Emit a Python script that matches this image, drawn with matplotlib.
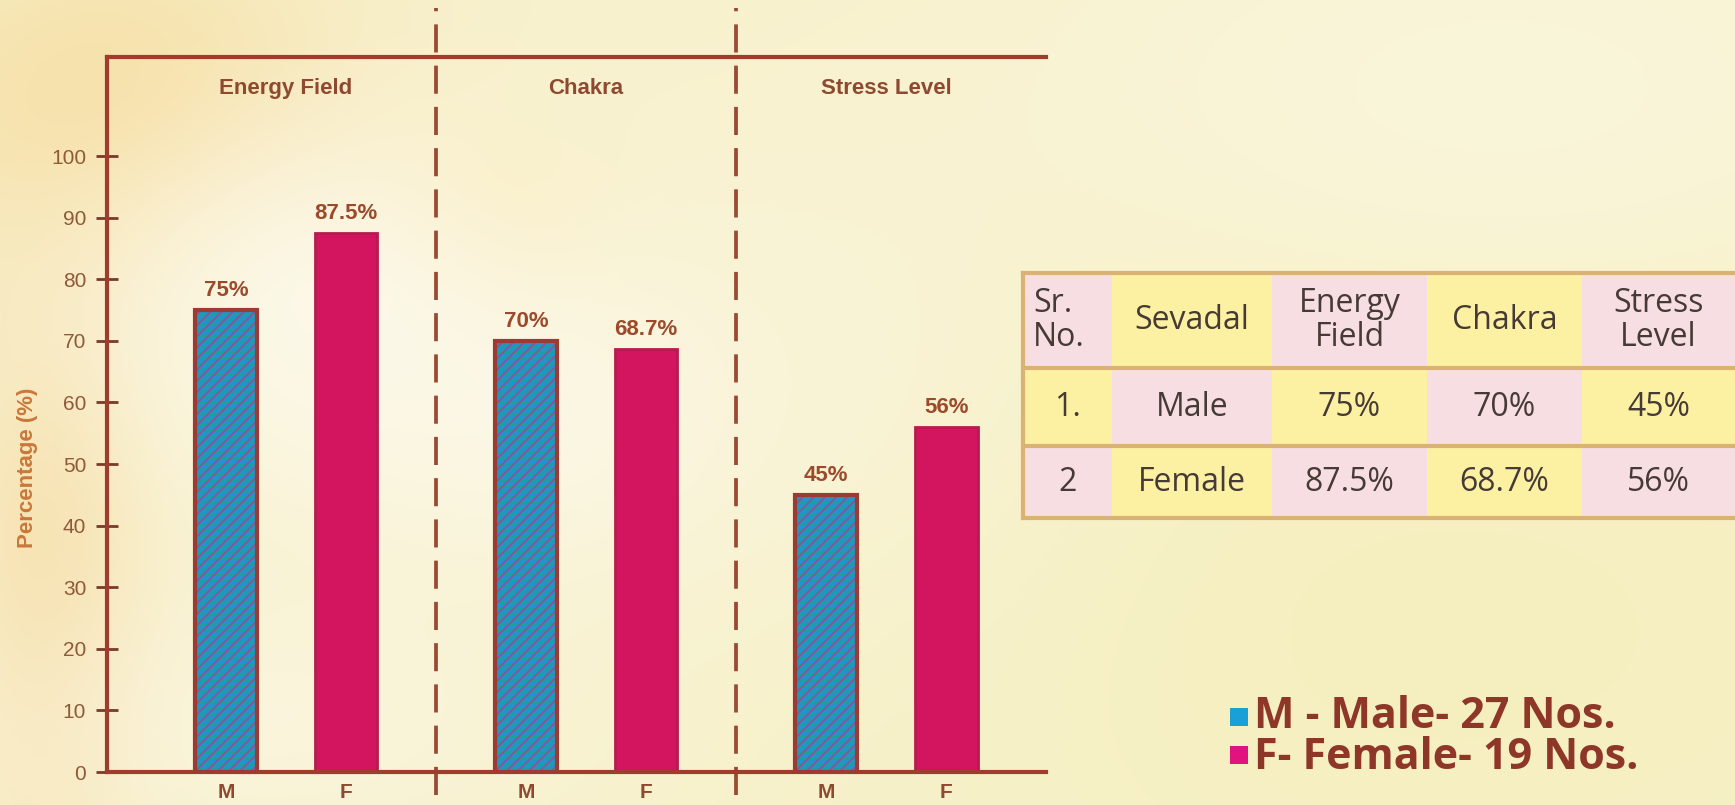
import numpy as np
import matplotlib
matplotlib.use("Agg")
import matplotlib.pyplot as plt
from matplotlib.patches import Rectangle

# ---- data ----
categories = ["Energy Field", "Chakra", "Stress Level"]
male_pct = [75, 70, 45]
female_pct = [87.5, 68.7, 56]
bar_labels = ["M", "F"]
y_ticks = [0, 10, 20, 30, 40, 50, 60, 70, 80, 90, 100]
table_header = ["Sr.\nNo.", "Sevadal", "Energy\nField", "Chakra", "Stress\nLevel"]
table_serial = ["1.", "2"]
table_groups = ["Male", "Female"]
legend_entries = ["M - Male- 27 Nos.", "F- Female- 19 Nos."]

W, H = 1735, 805
fig = plt.figure(figsize=(W / 100, H / 100), dpi=100)

# ---- soft cream background with a pale flower glow on the left ----
yy, xx = np.mgrid[0:H, 0:W]
img = np.ones((H, W, 3)) * np.array([0.970, 0.945, 0.800])


def blob(cx, cy, sx, sy, color, strength):
    g = np.exp(-(((xx - cx) / sx) ** 2 + ((yy - cy) / sy) ** 2) / 2) * strength
    img[:] = img * (1 - g[..., None]) + np.array(color) * g[..., None]


blob(1450, 620, 420, 260, (0.955, 0.935, 0.720), 0.6)
blob(1500, 90, 350, 160, (0.985, 0.970, 0.880), 0.7)
blob(130, 110, 170, 120, (0.960, 0.840, 0.560), 0.7)
blob(480, 230, 90, 70, (0.975, 0.880, 0.600), 0.5)
blob(50, 560, 70, 220, (0.965, 0.840, 0.600), 0.6)
blob(330, 300, 190, 150, (0.995, 0.985, 0.950), 0.75)
blob(560, 420, 150, 120, (0.990, 0.980, 0.940), 0.55)
blob(260, 720, 220, 100, (0.990, 0.975, 0.930), 0.45)
blob(850, 380, 180, 200, (0.985, 0.965, 0.880), 0.4)

ax_bg = fig.add_axes([0, 0, 1, 1], zorder=-10)
ax_bg.imshow(img, aspect="auto", extent=[0, 1, 0, 1], interpolation="bilinear")
ax_bg.axis("off")

# ---- bar chart ----
axis_col = "#A03C2C"
text_col = "#8E4A30"
sans = ["Liberation Sans", "DejaVu Sans"]

ax = fig.add_axes([107 / W, 1 - 772 / H, (1046 - 107) / W, (772 - 57.5) / H])
ax.patch.set_alpha(0)
ax.set_xlim(-0.99, 6.83)
ax.set_ylim(0, 116)

xm = np.array([0.0, 2.5, 5.0])
xf = xm + 1.0
bw = 0.52

plt.rcParams["hatch.linewidth"] = 1.3
ax.bar(xm, male_pct, bw, color="#2592CC", edgecolor="none", zorder=2)
ax.bar(xm, male_pct, bw, facecolor="none", edgecolor="#17A39B", hatch="---",
       linewidth=0, zorder=3)
ax.bar(xm, male_pct, bw, facecolor="none", edgecolor="#8C5494", hatch="///",
       linewidth=0, zorder=3)
ax.bar(xm, male_pct, bw, facecolor="none", edgecolor="#9A3C34", linewidth=3,
       zorder=4)
ax.bar(xf, female_pct, bw, color="#D3145F", edgecolor="#B71A50", linewidth=2,
       zorder=2)

for xs, vals in ((xm, male_pct), (xf, female_pct)):
    for x, v in zip(xs, vals):
        ax.text(x, v + 3.2, f"{v:g}%", ha="center", va="center", fontsize=16,
                fontweight="bold", color="#9C4A2C", family=sans, zorder=5)

centers = (xm + xf) / 2
for c, name in zip(centers, categories):
    ax.text(c, 111, name, ha="center", va="center", fontsize=16,
            fontweight="bold", color=text_col, family=sans)

# dashed separators between the three groups
for xs in ((xf[0] + xm[1]) / 2, (xf[1] + xm[2]) / 2):
    ax.plot([xs, xs], [-3.8, 124], color="#9A4A32", lw=2.7,
            dashes=(7.5, 3.5), clip_on=False, zorder=1)

for s in ("left", "top", "bottom"):
    ax.spines[s].set_color(axis_col)
    ax.spines[s].set_linewidth(3)
ax.spines["right"].set_visible(False)

ax.set_yticks(y_ticks)
ax.set_yticklabels([str(t) for t in y_ticks], fontsize=15, color="#8E5A3A",
                   family=sans)
ax.tick_params(axis="y", direction="inout", length=16, width=2,
               color="#7A3A2A", pad=7)
ticks_x = np.concatenate([xm, xf])
ax.set_xticks(ticks_x)
ax.set_xticklabels([bar_labels[0]] * 3 + [bar_labels[1]] * 3, fontsize=15,
                   fontweight="bold", color=text_col, family=sans)
ax.tick_params(axis="x", length=0, pad=8)

fig.text(28 / W, 1 - 468 / H, "Percentage (%)", rotation=90, ha="center",
         va="center", fontsize=16, fontweight="bold", color="#C8783A",
         family=sans)

# ---- data table ----
ax_t = fig.add_axes([1023 / W, 1 - 518 / H, (W - 1023) / W, (518 - 273) / H])
ax_t.set_xlim(0, W - 1023)
ax_t.set_ylim(245, 0)
ax_t.axis("off")

col_edges = [0, 89, 249, 404, 559, W - 1023]
row_edges = [0, 95, 173, 245]
pink, yellow = "#F7DEE2", "#FCF1A2"
line_col = "#D9B274"

rows = [table_header]
for i in range(2):
    m = [male_pct, female_pct][i]
    rows.append([table_serial[i], table_groups[i]] + [f"{v:g}%" for v in m])

for r in range(3):
    for c in range(5):
        fc = pink if (r + c) % 2 == 0 else yellow
        ax_t.add_patch(Rectangle((col_edges[c], row_edges[r]),
                                 col_edges[c + 1] - col_edges[c],
                                 row_edges[r + 1] - row_edges[r],
                                 facecolor=fc, edgecolor="none"))
        cx = (col_edges[c] + col_edges[c + 1]) / 2
        cy = (row_edges[r] + row_edges[r + 1]) / 2
        ha = "center"
        if r == 0 and c == 0:
            cx, ha = col_edges[0] + 10, "left"
        ax_t.text(cx, cy, rows[r][c], ha=ha, va="center", fontsize=23,
                  color="#463A36", family=["Open Sans", "DejaVu Sans"],
                  linespacing=1.0)

for y in row_edges:
    ax_t.plot([0, W - 1023], [y, y], color=line_col, lw=3, clip_on=False)
ax_t.plot([0, 0], [0, 245], color=line_col, lw=3, clip_on=False)

# ---- legend ----
sq_cols = ["#1AA0D6", "#E2137E"]
sq_y = [708, 746]
txt_y = [716, 757]
for col, ys, ty, label in zip(sq_cols, sq_y, txt_y, legend_entries):
    fig.patches.append(Rectangle((1230 / W, 1 - (ys + 18) / H), 18 / W, 18 / H,
                                 transform=fig.transFigure, facecolor=col,
                                 edgecolor="none"))
    fig.text(1254 / W, 1 - ty / H, label, ha="left", va="center",
             fontsize=31, fontweight="bold", color="#8E3628",
             family=["Open Sans", "DejaVu Sans"])

fig.savefig("out.png", dpi=100)
